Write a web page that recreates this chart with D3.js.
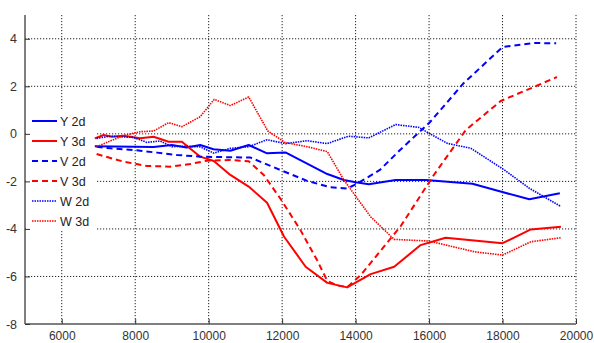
<!DOCTYPE html>
<html>
<head>
<meta charset="utf-8">
<script src="https://cdn.jsdelivr.net/npm/d3@7"></script>
<style>
  html, body { margin: 0; padding: 0; background: #fff; }
  svg { display: block; }
  text { font-family: "Liberation Sans", Arial, sans-serif; }
</style>
</head>
<body>
<svg id="chart" width="594" height="343"></svg>
<script>
// ---- data ----
const xTicks = [6000, 8000, 10000, 12000, 14000, 16000, 18000, 20000];
const yTicks = [-8, -6, -4, -2, 0, 2, 4];
const seriesNames = ["Y 2d", "Y 3d", "V 2d", "V 3d", "W 2d", "W 3d"];

const y2dX = [6900, 8500, 9000, 9400, 9770, 10130, 10590, 11090, 11590, 12090, 13230, 13680, 14000, 14360, 15090, 15910, 17180, 18020, 18730, 19560];
const y2dY = [-0.52, -0.55, -0.47, -0.57, -0.47, -0.65, -0.71, -0.47, -0.82, -0.78, -1.69, -1.94, -2.04, -2.12, -1.94, -1.94, -2.10, -2.46, -2.75, -2.50];

const y3dX = [6900, 7140, 7360, 7680, 8140, 8500, 8910, 9270, 9770, 10140, 10590, 11090, 11590, 12050, 12640, 13230, 13770, 14410, 15050, 15770, 16450, 18000, 18770, 19590];
const y3dY = [-0.19, -0.05, -0.12, -0.08, -0.19, -0.12, -0.33, -0.33, -0.96, -1.14, -1.73, -2.22, -2.90, -4.32, -5.59, -6.27, -6.46, -5.90, -5.59, -4.68, -4.37, -4.60, -4.02, -3.91];

const v2dX = [6950, 7320, 7950, 8590, 9140, 9770, 11140, 11950, 12680, 13320, 13770, 14050, 14660, 15210, 16030, 16940, 18000, 18840, 19460];
const v2dY = [-0.54, -0.61, -0.68, -0.79, -0.89, -0.96, -1.00, -1.52, -1.98, -2.25, -2.30, -2.09, -1.52, -0.68, 0.50, 2.13, 3.65, 3.82, 3.81];

const v3dX = [6950, 7680, 8320, 8950, 9500, 9950, 10550, 11090, 11500, 11950, 12500, 12950, 13230, 13500, 13770, 14140, 15230, 16130, 17000, 17950, 18850, 19480];
const v3dY = [-0.85, -1.17, -1.35, -1.38, -1.27, -1.13, -1.10, -1.15, -1.73, -2.72, -4.05, -5.31, -6.19, -6.38, -6.45, -5.94, -3.88, -1.73, 0.16, 1.38, 1.97, 2.39];

const w2dX = [6950, 7320, 7950, 8320, 8680, 9000, 9410, 9770, 10140, 10590, 11090, 11590, 12090, 12680, 13230, 13800, 14360, 15090, 15730, 16000, 16500, 17140, 18050, 18730, 19590];
const w2dY = [-0.19, -0.10, -0.15, -0.36, -0.30, -0.54, -0.52, -0.55, -0.81, -0.61, -0.54, -0.25, -0.41, -0.29, -0.41, -0.10, -0.17, 0.39, 0.27, 0.02, -0.40, -0.61, -1.52, -2.29, -3.06];

const w3dX = [6950, 7680, 8140, 8500, 8910, 9270, 9770, 10150, 10590, 11090, 11610, 12090, 12680, 13230, 13680, 14410, 15050, 16000, 17230, 18000, 18770, 19590];
const w3dY = [-0.54, -0.07, 0.09, 0.12, 0.47, 0.30, 0.72, 1.45, 1.19, 1.55, 0.12, -0.37, -0.54, -0.75, -1.94, -3.49, -4.44, -4.51, -4.96, -5.10, -4.54, -4.37];

const seriesX = [y2dX, y3dX, v2dX, v3dX, w2dX, w3dX];
const seriesY = [y2dY, y3dY, v2dY, v3dY, w2dY, w3dY];

// ---- styles ----
const colors = ["#0000ff", "#ff0000", "#0000ff", "#ff0000", "#0000ff", "#ff0000"];
const dashes = [null, null, "6,4", "6,4", "1.5,1", "1.5,1"];
const widths = [2, 2, 2, 2, 1.6, 1.6];

const svg = d3.select("#chart");
const mLeft = 25, mRight = 576, mTop = 15, mBottom = 324;

const x = d3.scaleLinear().domain([5000, 20000]).range([mLeft, mRight]);
const y = d3.scaleLinear().domain([-8, 5]).range([mBottom, mTop]);

// grid
const grid = svg.append("g");
grid.selectAll(".vg").data(xTicks).enter().append("line")
  .attr("x1", d => x(d)).attr("x2", d => x(d))
  .attr("y1", mTop).attr("y2", mBottom)
  .attr("stroke", "#222").attr("stroke-width", 1).attr("stroke-dasharray", "1.2,1.8");
grid.selectAll(".hg").data(yTicks.filter(d => d > -8)).enter().append("line")
  .attr("x1", mLeft).attr("x2", mRight)
  .attr("y1", d => y(d)).attr("y2", d => y(d))
  .attr("stroke", "#222").attr("stroke-width", 1).attr("stroke-dasharray", "1.2,1.8");

// legend background (covers grid)
svg.append("rect").attr("x", mLeft + 1).attr("y", 109).attr("width", 71).attr("height", 122).attr("fill", "#fff");

// axes
const xAxis = d3.axisBottom(x).tickValues(xTicks).tickSize(-5).tickPadding(7).tickFormat(d => String(d));
const yAxis = d3.axisLeft(y).tickValues(yTicks).tickSize(-5).tickPadding(8).tickFormat(d => String(d));
const gx = svg.append("g").attr("transform", `translate(0,${mBottom})`).call(xAxis);
const gy = svg.append("g").attr("transform", `translate(${mLeft},0)`).call(yAxis);
[gx, gy].forEach(g => {
  g.select(".domain").attr("stroke", "#555").attr("stroke-width", 1.5);
  g.selectAll(".tick line").attr("stroke", "#333").attr("stroke-width", 1);
  g.selectAll(".tick text").attr("fill", "#333").style("font-size", "12.5px")
    .style("font-family", "'Liberation Sans', Arial, sans-serif");
});
gx.selectAll(".tick text").style("font-size", "12px");
gy.select(".domain").attr("d", `M0,${mTop}V${mBottom}`);
gx.select(".domain").attr("d", `M${mLeft},0H${mRight}`);

// lines
const line = d3.line().x(d => x(d[0])).y(d => y(d[1]));
seriesNames.forEach((name, i) => {
  const pts = seriesX[i].map((xv, j) => [xv, seriesY[i][j]]);
  svg.append("path").datum(pts)
    .attr("d", line)
    .attr("fill", "none")
    .attr("stroke", colors[i])
    .attr("stroke-width", widths[i])
    .attr("stroke-dasharray", dashes[i])
    .attr("stroke-linejoin", "round");
});

// legend
const lg = svg.append("g");
seriesNames.forEach((name, i) => {
  const cy = 121 + i * 20;
  lg.append("line").attr("x1", 32).attr("x2", 57).attr("y1", cy).attr("y2", cy)
    .attr("stroke", colors[i]).attr("stroke-width", widths[i]).attr("stroke-dasharray", dashes[i]);
  lg.append("text").attr("x", 60).attr("y", cy + 4.5).text(name)
    .attr("fill", "#222").style("font-size", "12.5px");
});
</script>
</body>
</html>
